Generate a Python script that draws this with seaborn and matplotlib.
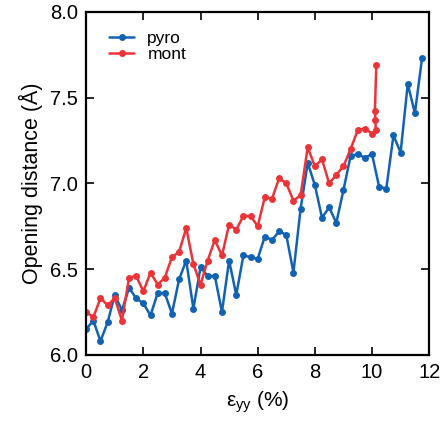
import numpy as np
import pandas as pd
import matplotlib
matplotlib.use("Agg")
import matplotlib.pyplot as plt
import seaborn as sns

pyro_x = [0, 0.25, 0.5, 0.75, 1.0, 1.25, 1.5, 1.75, 2.0, 2.25, 2.5, 2.75,
          3.0, 3.25, 3.5, 3.75, 4.0, 4.25, 4.5, 4.75, 5.0, 5.25, 5.5, 5.75,
          6.0, 6.25, 6.5, 6.75, 7.0, 7.25, 7.5, 7.75, 8.0, 8.25, 8.5, 8.75,
          9.0, 9.25, 9.5, 9.75, 10.0, 10.25, 10.5, 10.75, 11.0, 11.25, 11.5, 11.75]
pyro_y = [6.15, 6.20, 6.08, 6.19, 6.35, 6.26, 6.39, 6.33, 6.30, 6.23, 6.36, 6.36,
          6.24, 6.44, 6.55, 6.27, 6.51, 6.46, 6.46, 6.25, 6.55, 6.35, 6.58, 6.57,
          6.56, 6.69, 6.67, 6.72, 6.70, 6.48, 6.85, 7.12, 6.99, 6.80, 6.86, 6.77,
          6.96, 7.16, 7.17, 7.15, 7.17, 6.98, 6.97, 7.28, 7.18, 7.58, 7.41, 7.73]

mont_x = [0, 0.25, 0.5, 0.75, 1.0, 1.25, 1.5, 1.75, 2.0, 2.25, 2.5, 2.75,
          3.0, 3.25, 3.5, 3.75, 4.0, 4.25, 4.5, 4.75, 5.0, 5.25, 5.5, 5.75,
          6.0, 6.25, 6.5, 6.75, 7.0, 7.25, 7.5, 7.75, 8.0, 8.25, 8.5, 8.75,
          9.0, 9.25, 9.5, 9.75, 10.0, 10.13, 10.12, 10.1, 10.15]
mont_y = [6.25, 6.22, 6.33, 6.29, 6.33, 6.20, 6.45, 6.46, 6.37, 6.48, 6.41, 6.45,
          6.57, 6.60, 6.74, 6.53, 6.41, 6.55, 6.67, 6.58, 6.76, 6.73, 6.81, 6.81,
          6.75, 6.92, 6.91, 7.03, 7.00, 6.90, 6.93, 7.21, 7.10, 7.14, 7.00, 7.05,
          7.10, 7.20, 7.31, 7.32, 7.29, 7.31, 7.37, 7.42, 7.69]

x_ticks = [0, 2, 4, 6, 8, 10, 12]
y_ticks = [6.0, 6.5, 7.0, 7.5, 8.0]

df = pd.concat([
    pd.DataFrame({"x": pyro_x, "y": pyro_y, "series": "pyro"}),
    pd.DataFrame({"x": mont_x, "y": mont_y, "series": "mont"}),
], ignore_index=True)

sns.set_style("ticks")
plt.rcParams["font.family"] = ["Liberation Sans", "DejaVu Sans"]
plt.rcParams["mathtext.fontset"] = "custom"
plt.rcParams["mathtext.rm"] = "Liberation Sans"
plt.rcParams["mathtext.it"] = "Liberation Sans"
plt.rcParams["text.color"] = "black"
plt.rcParams["axes.labelcolor"] = "black"
plt.rcParams["xtick.color"] = "black"
plt.rcParams["ytick.color"] = "black"
plt.rcParams["axes.edgecolor"] = "black"

fig = plt.figure(figsize=(4.42, 4.26), dpi=100)
ax = fig.add_axes([0.195, 0.167, 0.776, 0.805])

palette = {"pyro": "#1262b3", "mont": "#ec3338"}
sns.lineplot(data=df, x="x", y="y", hue="series", palette=palette,
             sort=False, estimator=None, marker="o", markersize=5,
             markeredgewidth=0, linewidth=1.8, ax=ax)

ax.set_xlim(0, 12)
ax.set_ylim(6.0, 8.0)
ax.set_xticks(x_ticks)
ax.set_yticks(y_ticks)
ax.set_xticklabels([str(t) for t in x_ticks])
ax.set_yticklabels([f"{t:.1f}" for t in y_ticks])
ax.tick_params(direction="in", top=True, right=True, length=6, width=1.2,
               labelsize=14.5, pad=6)
for s in ax.spines.values():
    s.set_linewidth(1.6)

ax.set_xlabel("ε$_{\\mathregular{yy}}$ (%)", fontsize=15, labelpad=5)
ax.set_ylabel("Opening distance (Å)", fontsize=15.5, labelpad=5)

leg = ax.legend(loc="upper left", frameon=False, fontsize=12.5,
                handlelength=1.45, handletextpad=0.75, labelspacing=0.05,
                borderpad=0, borderaxespad=0,
                bbox_to_anchor=(0.067, 0.945))

fig.savefig("out.png", dpi=100)
